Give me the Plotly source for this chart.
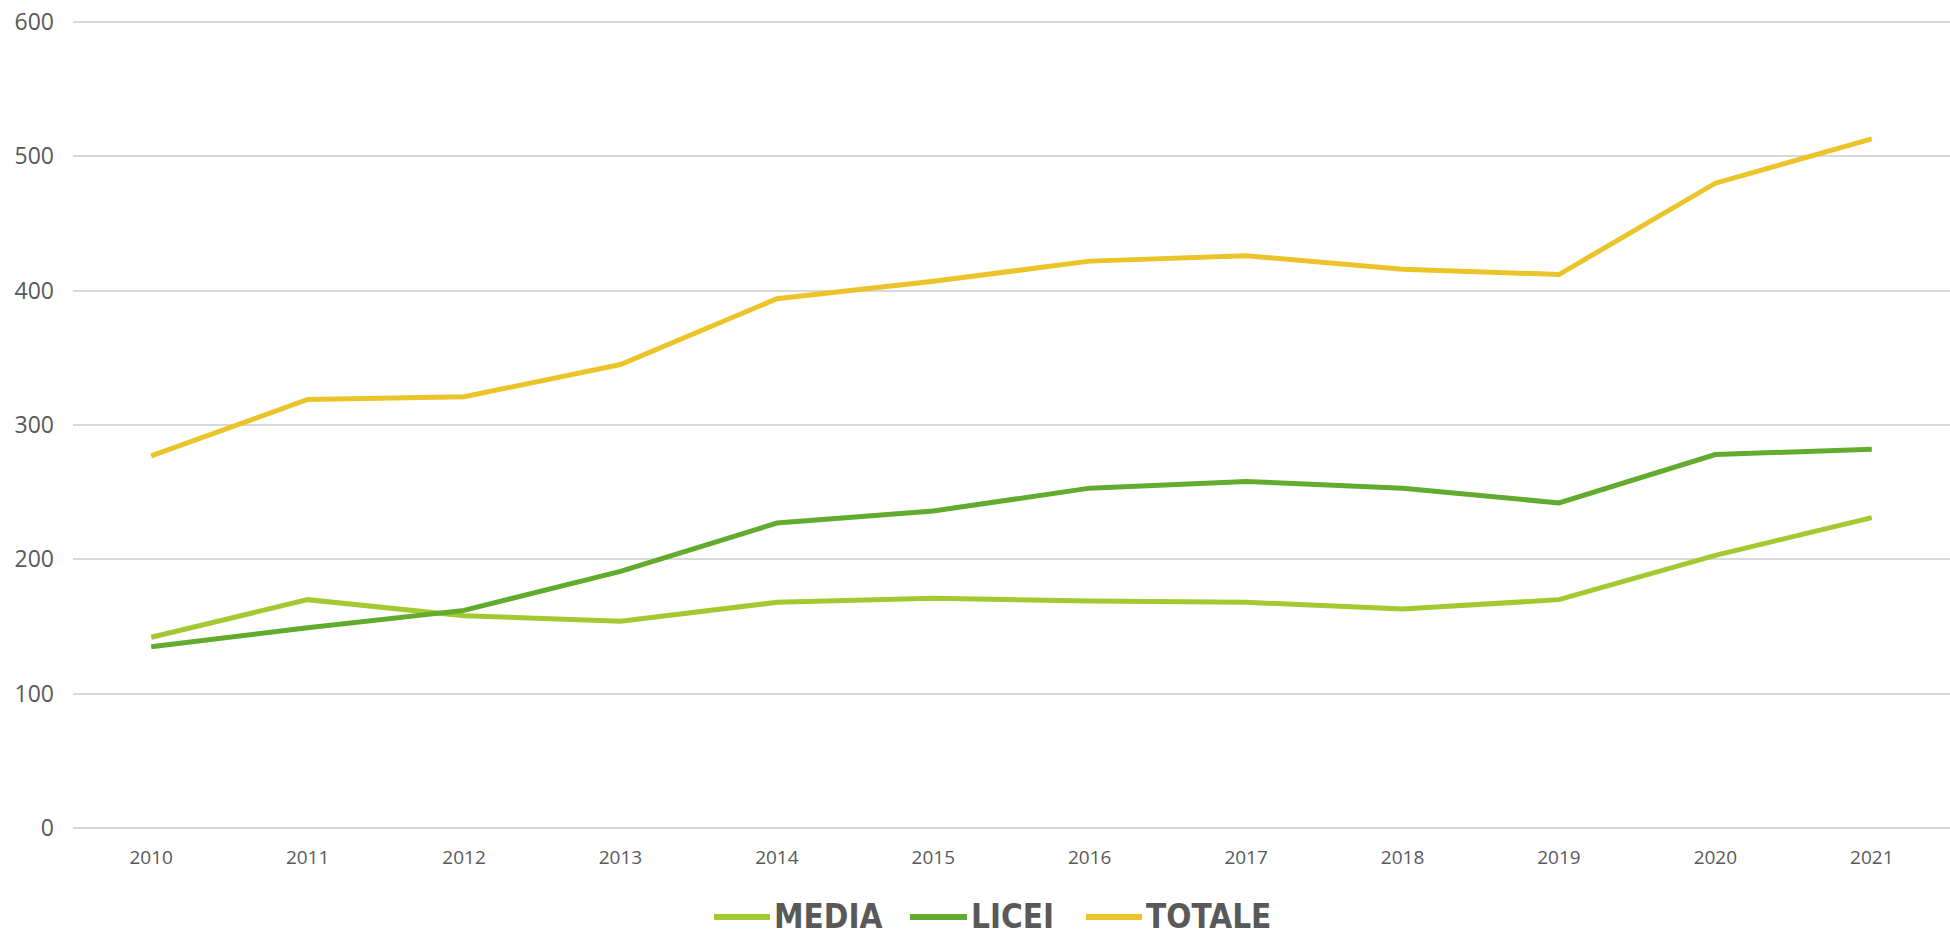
import plotly.graph_objects as go

years = ["2010", "2011", "2012", "2013", "2014", "2015", "2016", "2017", "2018", "2019", "2020", "2021"]
media = [142, 170, 158, 154, 168, 171, 169, 168, 163, 170, 203, 231]
licei = [135, 149, 162, 191, 227, 236, 253, 258, 253, 242, 278, 282]
totale = [277, 319, 321, 345, 394, 407, 422, 426, 416, 412, 480, 513]
y_ticks = [0, 100, 200, 300, 400, 500, 600]

names = ["MEDIA", "LICEI", "TOTALE"]
colors = ["#A2C92F", "#62AB2E", "#EBC42A"]
values = [media, licei, totale]

W, H = 1950, 935
ML, MR, MT, MB = 73, 0, 21, 107
PW, PH = W - ML - MR, H - MT - MB

fig = go.Figure()
for name, vals, color in zip(names, values, colors):
    fig.add_trace(go.Scatter(
        x=years, y=vals, name=name, mode="lines",
        line=dict(color=color, width=5),
    ))

# custom legend (pixel layout converted to paper coords)
leg_y_px = 917
leg_items = [(714, 770, 773), (910, 967, 970), (1086, 1142, 1145)]  # line start, line end, text start
def px_x(p):
    return (p - ML) / PW
def px_y(p):
    return (H - MB - p) / PH

shapes = []
annotations = []
for (x0, x1, xt), name, color in zip(leg_items, names, colors):
    shapes.append(dict(type="line", xref="paper", yref="paper",
                       x0=px_x(x0), x1=px_x(x1), y0=px_y(leg_y_px), y1=px_y(leg_y_px),
                       line=dict(color=color, width=6)))
    annotations.append(dict(xref="paper", yref="paper", x=px_x(xt), y=px_y(leg_y_px - 1),
                            xanchor="left", yanchor="middle", showarrow=False, text=name,
                            borderpad=0,
                            font=dict(family="DejaVu Sans Condensed, DejaVu Sans", size=33,
                                      color="#595959", weight="bold")))

fig.update_layout(
    width=W, height=H,
    margin=dict(l=ML, r=MR, t=MT, b=MB, autoexpand=False),
    plot_bgcolor="white", paper_bgcolor="white",
    showlegend=False,
    shapes=shapes, annotations=annotations,
    xaxis=dict(
        type="category", range=[-0.5, 11.5],
        showgrid=False, showline=False, ticks="",
        tickfont=dict(family="Open Sans", size=19, color="#595959"),
        ticklabelstandoff=16,
    ),
    yaxis=dict(
        range=[0, 600.75], tickvals=y_ticks,
        showgrid=True, gridcolor="#D9D9D9", gridwidth=1.5,
        zeroline=True, zerolinecolor="#D9D9D9", zerolinewidth=1.5,
        showline=False, ticks="",
        tickfont=dict(family="Open Sans", size=23, color="#595959"),
        ticklabelstandoff=18,
    ),
)

fig.write_html("out.html", config={"displayModeBar": False},
               post_script="document.body.style.margin='0';document.body.style.overflow='hidden';")
